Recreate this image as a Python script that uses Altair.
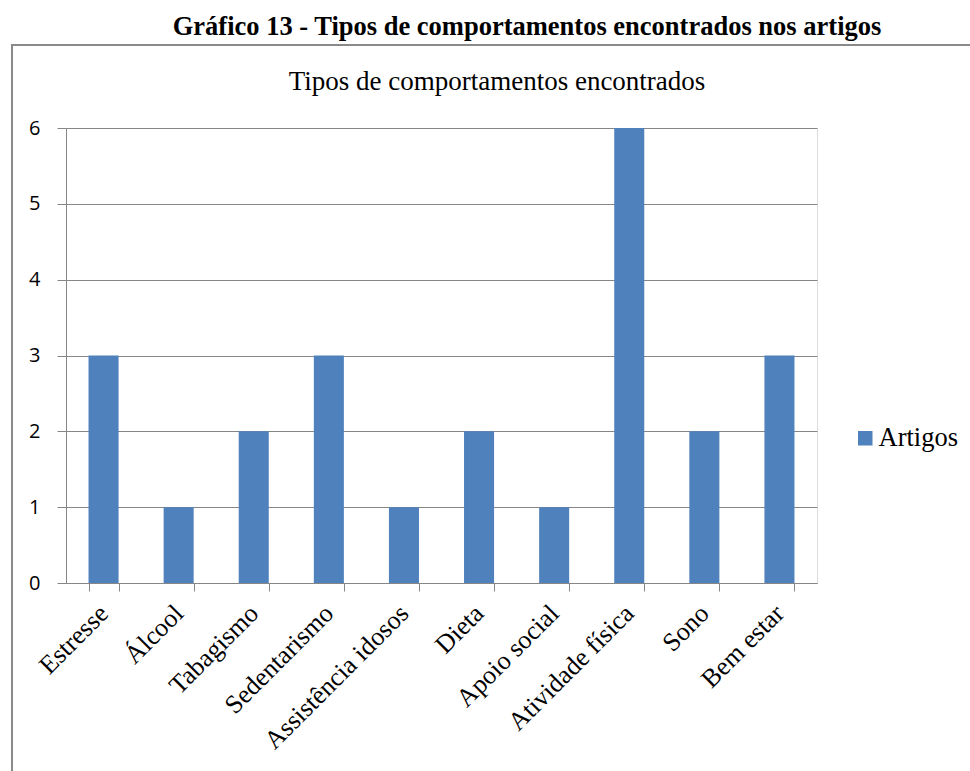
import altair as alt
import pandas as pd

# Behaviour categories and number of articles for each
categorias = ["Estresse", "Álcool", "Tabagismo", "Sedentarismo", "Assistência idosos",
              "Dieta", "Apoio social", "Atividade física", "Sono", "Bem estar"]
artigos = [3, 1, 2, 3, 1, 2, 1, 6, 2, 3]
serie = ["Artigos"] * len(categorias)

df = pd.DataFrame({"categoria": categorias, "valor": artigos, "serie": serie})

W, H = 751, 455
LEFT, TOP = 66, 128
GRAY = "#868686"
BLUE = "#4F81BD"

bars = alt.Chart(df).mark_bar(color=BLUE).encode(
    x=alt.X("categoria:N", sort=categorias,
            scale=alt.Scale(paddingInner=0.6, paddingOuter=0.3),
            axis=alt.Axis(title=None, labelAngle=-45, labelAlign="right", labelBaseline="middle",
                          labelFont="Liberation Serif", labelFontSize=26, labelColor="#000000",
                          labelPadding=18, tickBand="extent", tickSize=8, tickColor=GRAY,
                          domainColor=GRAY, grid=False, labelOverlap=False, labelLimit=400)),
    y=alt.Y("valor:Q", scale=alt.Scale(domain=[0, 6], nice=False),
            axis=alt.Axis(title=None, values=[0, 1, 2, 3, 4, 5, 6], format="d",
                          labelFont="Open Sans", labelFontSize=20, labelColor="#000000",
                          labelPadding=17, tickSize=9, tickColor=GRAY, domainColor=GRAY,
                          gridColor=GRAY, gridWidth=1)),
    fill=alt.Fill("serie:N", scale=alt.Scale(range=[BLUE]),
                  legend=alt.Legend(title=None, orient="none", legendX=786, legendY=297,
                                    symbolType="square", symbolSize=210, symbolStrokeWidth=0,
                                    labelFont="Liberation Serif", labelFontSize=26.5,
                                    labelColor="#000000", labelOffset=0)),
)

# Outer frame around the chart
frame = alt.Chart(pd.DataFrame({"k": [0]})).mark_rect(
    fill=None, stroke="#8a8a8a", strokeWidth=2
).encode(x=alt.value(12 - LEFT), x2=alt.value(990 - LEFT),
         y=alt.value(45 - TOP), y2=alt.value(800 - TOP))

titulo_grafico = alt.Chart(pd.DataFrame({"t": ["Gráfico 13 - Tipos de comportamentos encontrados nos artigos"]})).mark_text(
    font="Liberation Serif", fontSize=26.5, fontWeight="bold", color="#000000",
    align="center", baseline="middle"
).encode(x=alt.value(527 - LEFT), y=alt.value(27 - TOP), text="t:N")

titulo_interno = alt.Chart(pd.DataFrame({"t": ["Tipos de comportamentos encontrados"]})).mark_text(
    font="Liberation Serif", fontSize=27, color="#000000",
    align="center", baseline="middle"
).encode(x=alt.value(497 - LEFT), y=alt.value(82 - TOP), text="t:N")

chart = alt.layer(frame, bars, titulo_grafico, titulo_interno).properties(
    width=W, height=H,
    autosize=alt.AutoSizeParams(type="none"),
    padding={"left": LEFT, "top": TOP, "right": 970 - LEFT - W, "bottom": 771 - TOP - H},
).configure_view(stroke=None).configure(background="#ffffff")

chart.save("out.html", embed_options={"renderer": "svg", "actions": False})
